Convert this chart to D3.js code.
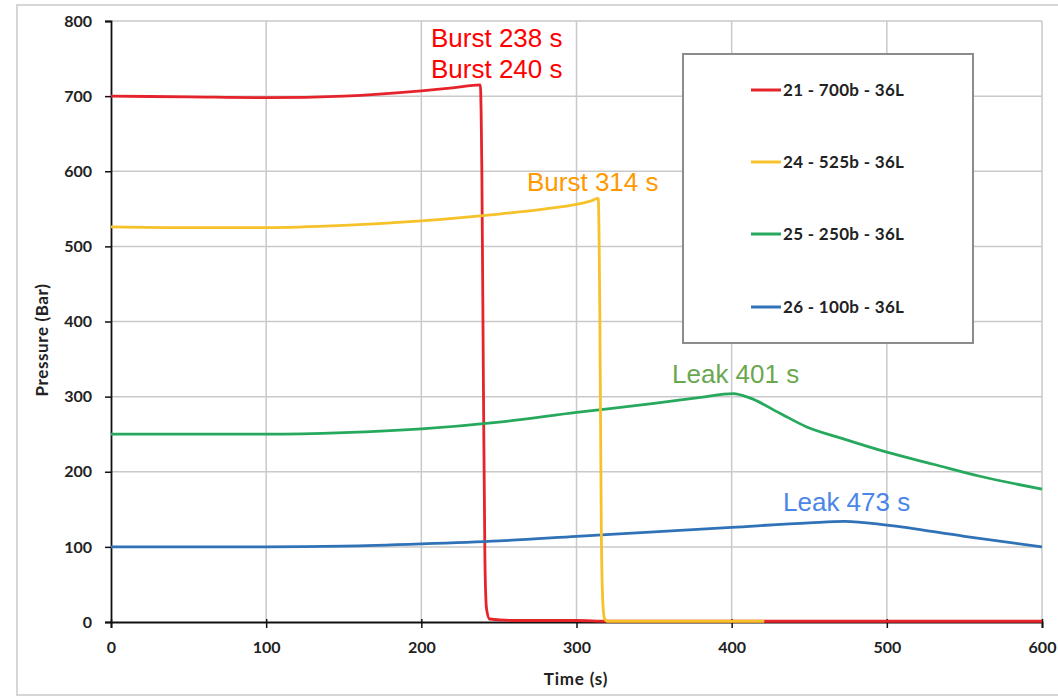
<!DOCTYPE html>
<html><head><meta charset="utf-8">
<script src="https://cdn.jsdelivr.net/npm/d3@7"></script>
<style>body{margin:0;background:#fff}svg{display:block}</style>
</head><body>
<svg id="c" width="1058" height="697"></svg>
<script>
// ---- data ----
const xTicks = [0,100,200,300,400,500,600];
const yTicks = [0,100,200,300,400,500,600,700,800];
const seriesNames = ["21 - 700b - 36L","24 - 525b - 36L","25 - 250b - 36L","26 - 100b - 36L"];
const seriesColors = ["#e5232b","#f6c22a","#27a95d","#2f72b8"];
const red700 = [[0,700],[50,699],[100,698],[150,700],[200,707],[220,711],[238,715],[239,600],[240,320],[241,80],[242,18],[244,4],[260,2],[300,2],[320,1],[600,1]];
const orange525 = [[0,526],[50,525],[100,525],[150,528],[200,534],[250,543],[280,550],[300,556],[310,561],[314,564],[315,420],[316,120],[317,25],[318,5],[320,1],[421,1]];
const green250 = [[0,250],[100,250],[150,252],[200,257],[250,266],[300,279],[350,291],[380,299],[401,304],[412,298],[431,278],[448,260],[470,245],[500,226],[530,210],[560,194],[600,177]];
const blue100 = [[0,100],[100,100],[150,101],[200,104],[250,108],[300,114],[350,120],[400,126],[450,132],[473,134],[500,129],[550,114],[600,100]];
const annotations = [
  {text:"Burst 238 s", t:238, color:"#ff0000"},
  {text:"Burst 240 s", t:240, color:"#ff0000"},
  {text:"Burst 314 s", t:314, color:"#ff9900"},
  {text:"Leak 401 s", t:401, color:"#6aa84f"},
  {text:"Leak 473 s", t:473, color:"#4a86e8"}
];
const annoPos = [[431,47],[431,78],[527,191],[672,383],[783,511]];

// ---- chart ----
const svg = d3.select("#c");
const L=111, R=1042, T=21, B=622;
const x = d3.scaleLinear().domain([0,600]).range([L,R]);
const y = d3.scaleLinear().domain([0,800]).range([B,T]);

svg.append("rect").attr("x",17).attr("y",5).attr("width",1045).attr("height",690)
  .attr("fill","#fff").attr("stroke","#d6d6d6").attr("stroke-width",2);

// grid
svg.append("g").selectAll("line").data(xTicks.slice(1)).join("line")
  .attr("x1",d=>x(d)).attr("x2",d=>x(d)).attr("y1",T).attr("y2",B)
  .attr("stroke","#c9c9c9").attr("stroke-width",1.5);
svg.append("g").selectAll("line").data(yTicks.slice(1)).join("line")
  .attr("x1",L).attr("x2",R).attr("y1",d=>y(d)).attr("y2",d=>y(d))
  .attr("stroke","#c9c9c9").attr("stroke-width",1.5);

const font = "Lato, 'Open Sans', sans-serif";
const xAxis = svg.append("g").attr("transform",`translate(0,${B})`)
  .call(d3.axisBottom(x).tickValues(xTicks).tickSize(6).tickPadding(14));
const yAxis = svg.append("g").attr("transform",`translate(${L},0)`)
  .call(d3.axisLeft(y).tickValues(yTicks).tickSize(6).tickPadding(13));
[xAxis,yAxis].forEach(a=>{
  a.select(".domain").attr("stroke","#111").attr("stroke-width",1.8);
  a.selectAll(".tick line").attr("stroke","#111").attr("stroke-width",1.5);
  a.selectAll("text").attr("font-family",font).attr("font-weight","bold")
    .attr("font-size",16).attr("fill","#222");
});
xAxis.selectAll(".tick line").attr("y1",-3);

svg.append("text").attr("x",576).attr("y",685).attr("text-anchor","middle")
  .attr("font-family",font).attr("font-weight","bold").attr("font-size",17)
  .attr("letter-spacing",0.8).attr("fill","#222")
  .text("Time (s)");
svg.append("text").attr("transform","translate(48,340) rotate(-90)").attr("text-anchor","middle")
  .attr("font-family",font).attr("font-weight","bold").attr("font-size",17)
  .attr("letter-spacing",0.6).attr("fill","#222")
  .text("Pressure (Bar)");

// lines
const line = d3.line().x(d=>x(d[0])).y(d=>y(d[1])).curve(d3.curveMonotoneX);
const allSeries = [red700, green250, blue100, orange525];
const colorIdx = [0,2,3,1];
allSeries.forEach((s,i)=>{
  svg.append("path").datum(s).attr("d",line).attr("fill","none")
    .attr("stroke",seriesColors[colorIdx[i]]).attr("stroke-width",2.8)
    .attr("stroke-linejoin","round");
});

// legend
svg.append("rect").attr("x",683).attr("y",54).attr("width",290).attr("height",289)
  .attr("fill","#fff").attr("stroke","#8c8c8c").attr("stroke-width",2);
const legY = [90,162,234,307];
seriesNames.forEach((n,i)=>{
  svg.append("line").attr("x1",751).attr("x2",781).attr("y1",legY[i]).attr("y2",legY[i])
    .attr("stroke",seriesColors[i]).attr("stroke-width",3);
  svg.append("text").attr("x",783).attr("y",legY[i]).attr("dy","0.36em")
    .attr("font-family",font).attr("font-weight","bold").attr("font-size",17)
    .attr("letter-spacing",0.3).attr("fill","#222")
    .text(n);
});

// annotations
annotations.forEach((a,i)=>{
  svg.append("text").attr("x",annoPos[i][0]).attr("y",annoPos[i][1])
    .attr("font-family","'Liberation Sans', Arial, sans-serif").attr("font-size",26)
    .attr("fill",a.color).text(a.text);
});
</script>
</body></html>
